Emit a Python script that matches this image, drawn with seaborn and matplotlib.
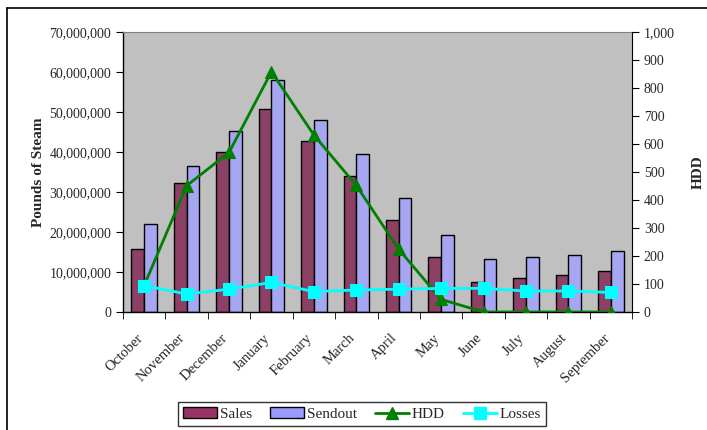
import numpy as np
import pandas as pd
import matplotlib
matplotlib.use("Agg")
import matplotlib.pyplot as plt
import matplotlib.ticker as mticker
import matplotlib.transforms as mtransforms
from matplotlib.patches import Patch
from matplotlib.lines import Line2D
import seaborn as sns

months = ["October", "November", "December", "January", "February", "March",
          "April", "May", "June", "July", "August", "September"]
sales = [15.8e6, 32.2e6, 39.9e6, 50.8e6, 42.7e6, 34.0e6,
         22.9e6, 13.7e6, 7.6e6, 8.5e6, 9.2e6, 10.3e6]
sendout = [22.1e6, 36.6e6, 45.3e6, 58.0e6, 47.9e6, 39.5e6,
           28.4e6, 19.2e6, 13.2e6, 13.7e6, 14.3e6, 15.2e6]
hdd = [95, 451, 570, 858, 632, 452, 224, 45, 0, 0, 0, 0]
losses = [6.6e6, 4.5e6, 5.7e6, 7.4e6, 5.1e6, 5.5e6,
          5.7e6, 5.9e6, 5.9e6, 5.25e6, 5.25e6, 4.9e6]

sns.set_style("ticks")
plt.rcParams["font.family"] = ["Liberation Serif", "DejaVu Serif"]
plt.rcParams["font.size"] = 10

C_SALES = "#993366"
C_SEND = "#9999FF"
C_HDD = "#008000"
C_LOSS = "#00FFFF"

bars = pd.DataFrame({
    "Month": months * 2,
    "Value": sales + sendout,
    "Series": ["Sales"] * 12 + ["Sendout"] * 12,
})
lines = pd.DataFrame({"pos": np.arange(len(months)), "HDD": hdd, "Losses": losses})

fig = plt.figure(figsize=(7.07, 4.30), dpi=100)
ax = fig.add_axes([123 / 707, 1 - 312 / 430, (632 - 123) / 707, (312 - 32) / 430])
ax.set_facecolor("#C0C0C0")

sns.barplot(data=bars, x="Month", y="Value", hue="Series", order=months,
            palette={"Sales": C_SALES, "Sendout": C_SEND}, width=0.6,
            edgecolor="black", linewidth=1, legend=False, ax=ax, zorder=2)
ax.set_xlim(-0.5, 11.5)
ax.set_ylim(0, 70e6)
ax.yaxis.set_major_locator(mticker.MultipleLocator(10e6))
ax.yaxis.set_major_formatter(mticker.FuncFormatter(lambda v, p: f"{v:,.0f}"))
ax.set_xlabel("")
ax.set_ylabel("Pounds of Steam", fontweight="bold", fontsize=11, labelpad=3)

ax.set_xticks(np.arange(12))
ax.set_xticklabels(months, rotation=45, ha="right", va="top", rotation_mode="anchor",
                   fontsize=10.5)
ax.tick_params(axis="x", which="major", length=0, pad=14)
shift = mtransforms.ScaledTranslation(-8 / 100, 0, fig.dpi_scale_trans)
for lbl in ax.get_xticklabels():
    lbl.set_transform(lbl.get_transform() + shift)
ax.set_xticks(np.arange(-0.5, 12, 1), minor=True)
ax.tick_params(axis="x", which="minor", length=5, direction="out", color="black")
ax.tick_params(axis="y", length=5, direction="out", color="black", labelsize=10)

for s in ["left", "bottom"]:
    ax.spines[s].set_color("black")
    ax.spines[s].set_linewidth(1)
ax.spines["top"].set_visible(True)
ax.spines["top"].set_color("#808080")
ax.spines["right"].set_visible(False)

ax2 = ax.twinx()
sns.lineplot(data=lines, x="pos", y="HDD", ax=ax2, color=C_HDD, linewidth=2,
             marker="^", markersize=9, markeredgecolor=C_HDD, zorder=3)
ax2.set_ylim(0, 1000)
ax2.yaxis.set_major_locator(mticker.MultipleLocator(100))
ax2.yaxis.set_major_formatter(mticker.FuncFormatter(lambda v, p: f"{v:,.0f}"))
ax2.set_ylabel("HDD", fontweight="bold", fontsize=11, labelpad=12)
ax2.tick_params(axis="y", length=5, direction="out", color="black", labelsize=10)
ax2.spines["right"].set_visible(True)
ax2.spines["right"].set_color("black")
for s in ["left", "top", "bottom"]:
    ax2.spines[s].set_visible(False)
ax2.set_xlim(-0.5, 11.5)
ax2.set_xlabel("")

ax3 = ax.twinx()
sns.lineplot(data=lines, x="pos", y="Losses", ax=ax3, color=C_LOSS, linewidth=2,
             marker="s", markersize=9, markeredgecolor=C_LOSS, zorder=4)
ax3.set_ylim(ax.get_ylim())
ax3.set_xlim(-0.5, 11.5)
ax3.axis("off")

handles = [
    Patch(facecolor=C_SALES, edgecolor="black", label="Sales"),
    Patch(facecolor=C_SEND, edgecolor="black", label="Sendout"),
    Line2D([], [], color=C_HDD, lw=2, marker="^", markersize=8, label="HDD"),
    Line2D([], [], color=C_LOSS, lw=2, marker="s", markersize=8, label="Losses"),
]
leg = fig.legend(handles=handles, loc="center", bbox_to_anchor=(362 / 707, 1 - 414 / 430),
                 ncol=4, frameon=True, fancybox=False, edgecolor="black",
                 fontsize=11, handlelength=2.2, handletextpad=0.2, columnspacing=1.2,
                 borderpad=0.35)
leg.get_frame().set_linewidth(1)

fig.add_artist(Line2D([7 / 707, 7 / 707], [0, 1 - 8 / 430], color="black", lw=1.2,
                      transform=fig.transFigure))
fig.add_artist(Line2D([7 / 707, 1], [1 - 8 / 430, 1 - 8 / 430], color="black", lw=1.2,
                      transform=fig.transFigure))

fig.savefig("out.png", dpi=100, facecolor="white")
